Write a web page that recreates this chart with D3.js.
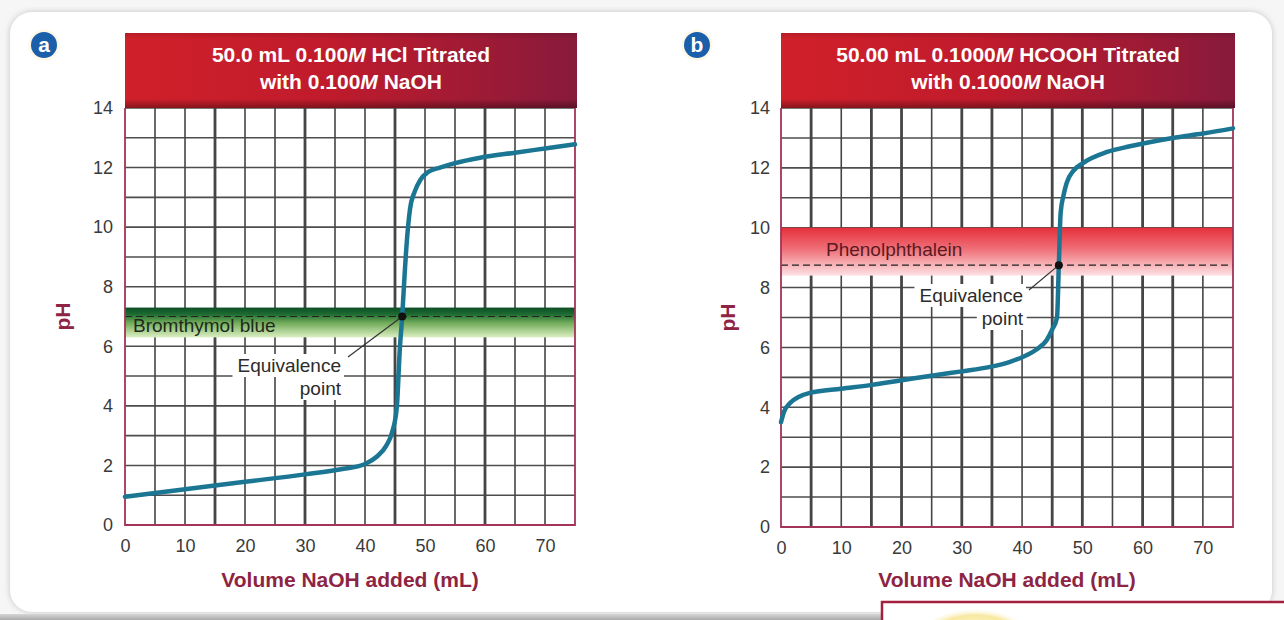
<!DOCTYPE html>
<html>
<head>
<meta charset="utf-8">
<script src="https://cdn.jsdelivr.net/npm/d3@7"></script>
<style>
  html, body { margin: 0; padding: 0; background: #f4f4f4; }
  svg { display: block; }
</style>
</head>
<body>
<svg id="chart" width="1284" height="620"></svg>
<script>
// ---- Panel a: strong acid (HCl) titrated with NaOH ----
const volumeA = [0, 10, 20, 30, 36, 40, 42, 43.5, 44.5, 45.3, 45.8, 46.2, 46.6, 47.0, 47.5, 48.3, 49.2, 50.5, 52.5, 55, 59.2, 65, 70, 75];
const pHA     = [0.95, 1.2, 1.45, 1.7, 1.87, 2.05, 2.3, 2.65, 3.1, 3.95, 5.9, 7.0, 8.4, 9.6, 10.6, 11.2, 11.58, 11.85, 12.0, 12.15, 12.33, 12.5, 12.64, 12.78];
const titleA  = ["50.0 mL 0.100", "M", " HCl Titrated", "with 0.100", "M", " NaOH"];
const indicatorA = ["Bromthymol blue", 6.3, 7.3];
const equivalenceA = [46.2, 7.0];

// ---- Panel b: weak acid (HCOOH) titrated with NaOH ----
const volumeB = [0, 0.5, 1.5, 3, 4.8, 10, 14.8, 20.3, 25.8, 30, 34.7, 38, 40.1, 42.5, 44.1, 45.0, 45.8, 46.1, 46.4, 46.9, 47.4, 48.5, 50.1, 54.1, 57.9, 65, 70, 75];
const pHB     = [3.5, 3.85, 4.14, 4.35, 4.48, 4.62, 4.74, 4.91, 5.08, 5.2, 5.35, 5.52, 5.68, 5.95, 6.25, 6.6, 7.0, 8.75, 10.5, 11.1, 11.5, 11.9, 12.16, 12.53, 12.72, 13.0, 13.15, 13.32];
const titleB  = ["50.00 mL 0.1000", "M", " HCOOH Titrated", "with 0.1000", "M", " NaOH"];
const indicatorB = ["Phenolphthalein", 8.4, 10.0];
const equivalenceB = [46.1, 8.75];

// ---- Shared axis values ----
const xTickValues = [0, 10, 20, 30, 40, 50, 60, 70];
const yTickValues = [0, 2, 4, 6, 8, 10, 12, 14];
const xGridValues = d3.range(0, 76, 5);
const yGridValues = d3.range(0, 15, 1);
const xAxisTitle = "Volume NaOH added (mL)";
const yAxisTitle = "pH";
const equivalenceText = ["Equivalence", "point"];

const FONT = "'Liberation Sans', Arial, sans-serif";
const MAROON = "#8e2443";

const svg = d3.select("#chart");
const defs = svg.append("defs");

// Card background
const shadow = defs.append("filter").attr("id", "cardShadow")
  .attr("x", "-5%").attr("y", "-5%").attr("width", "110%").attr("height", "110%");
shadow.append("feDropShadow").attr("dx", 0).attr("dy", 0).attr("stdDeviation", 3)
  .attr("flood-color", "#9a9a9a").attr("flood-opacity", 0.55);

svg.append("rect").attr("x", 0).attr("y", 0).attr("width", 1284).attr("height", 620).attr("fill", "#f6f6f6");
svg.append("rect").attr("x", 10).attr("y", 12).attr("width", 1262).attr("height", 600)
  .attr("rx", 22).attr("fill", "#ffffff").attr("filter", "url(#cardShadow)");

// Bottom strip and the neighbouring box
const strip = defs.append("linearGradient").attr("id", "stripGrad").attr("x1", 0).attr("y1", 0).attr("x2", 0).attr("y2", 1);
strip.append("stop").attr("offset", "0%").attr("stop-color", "#d6d6d6");
strip.append("stop").attr("offset", "100%").attr("stop-color", "#a9a9a9");
svg.append("rect").attr("x", 0).attr("y", 614).attr("width", 882).attr("height", 6).attr("fill", "url(#stripGrad)");
const sun = defs.append("radialGradient").attr("id", "sunGrad");
sun.append("stop").attr("offset", "0%").attr("stop-color", "#fff6c8");
sun.append("stop").attr("offset", "70%").attr("stop-color", "#f6e38a");
sun.append("stop").attr("offset", "100%").attr("stop-color", "#ffffff").attr("stop-opacity", 0);
svg.append("rect").attr("x", 882).attr("y", 602).attr("width", 420).attr("height", 40)
  .attr("fill", "#ffffff").attr("stroke", "#a3213f").attr("stroke-width", 2.5);
svg.append("ellipse").attr("cx", 975).attr("cy", 632).attr("rx", 55).attr("ry", 24).attr("fill", "url(#sunGrad)").attr("opacity", 0.8);

// Gradients for banners and indicator bands
const banner = defs.append("linearGradient").attr("id", "bannerGrad").attr("x1", 0).attr("y1", 0).attr("x2", 1).attr("y2", 0);
banner.append("stop").attr("offset", "0%").attr("stop-color", "#d0202a");
banner.append("stop").attr("offset", "45%").attr("stop-color", "#c01b2c");
banner.append("stop").attr("offset", "100%").attr("stop-color", "#881a3b");

const bshade = defs.append("linearGradient").attr("id", "bannerShade").attr("x1", 0).attr("y1", 0).attr("x2", 0).attr("y2", 1);
bshade.append("stop").attr("offset", "0%").attr("stop-color", "#000").attr("stop-opacity", 0.12);
bshade.append("stop").attr("offset", "8%").attr("stop-color", "#000").attr("stop-opacity", 0);
bshade.append("stop").attr("offset", "88%").attr("stop-color", "#000").attr("stop-opacity", 0);
bshade.append("stop").attr("offset", "100%").attr("stop-color", "#000").attr("stop-opacity", 0.35);

const green = defs.append("linearGradient").attr("id", "greenBand").attr("x1", 0).attr("y1", 0).attr("x2", 0).attr("y2", 1);
green.append("stop").attr("offset", "0%").attr("stop-color", "#0c4f24");
green.append("stop").attr("offset", "22%").attr("stop-color", "#1d6a32");
green.append("stop").attr("offset", "50%").attr("stop-color", "#6ea957");
green.append("stop").attr("offset", "100%").attr("stop-color", "#dcefc2");

const pink = defs.append("linearGradient").attr("id", "pinkBand").attr("x1", 0).attr("y1", 0).attr("x2", 0).attr("y2", 1);
pink.append("stop").attr("offset", "0%").attr("stop-color", "#e5303b");
pink.append("stop").attr("offset", "45%").attr("stop-color", "#f07078");
pink.append("stop").attr("offset", "100%").attr("stop-color", "#fde1e3");

function drawPanel(opts) {
  const { letter, badgeX, left, right, top, bottom, volumes, pHs, title, indicator, bandFill, bandText, equiv, labelEnd, labelTop, leaderEnd, yLabelX, pHx } = opts;

  const x = d3.scaleLinear().domain([0, 75]).range([left, right]);
  const y = d3.scaleLinear().domain([0, 14]).range([bottom, top]);
  const g = svg.append("g");

  // Letter badge
  svg.append("circle").attr("cx", badgeX).attr("cy", 45).attr("r", 15.5).attr("fill", "#fdf7e8");
  svg.append("circle").attr("cx", badgeX).attr("cy", 45).attr("r", 13).attr("fill", "#1b5ea9");
  svg.append("text").attr("x", badgeX).attr("y", 52).attr("text-anchor", "middle")
    .attr("font-family", FONT).attr("font-weight", "bold")
    .attr("font-size", 21).attr("fill", "#fff").text(letter);

  // Plot background
  g.append("rect").attr("x", left).attr("y", top).attr("width", right - left).attr("height", bottom - top).attr("fill", "#fff");

  // Grid
  g.append("g").selectAll("line").data(yGridValues).join("line")
    .attr("x1", left).attr("x2", right).attr("y1", d => y(d)).attr("y2", d => y(d))
    .attr("stroke", "#4d4d4d").attr("stroke-width", 1.6);
  g.append("g").selectAll("line").data(xGridValues.filter(v => v > 0 && v < 75)).join("line")
    .attr("y1", top).attr("y2", bottom).attr("x1", d => x(d)).attr("x2", d => x(d))
    .attr("stroke", "#454545").attr("stroke-width", d => opts.thick(d) ? 2.8 : 1.6);

  // Indicator band
  g.append("rect").attr("x", left).attr("width", right - left)
    .attr("y", y(indicator[2])).attr("height", y(indicator[1]) - y(indicator[2])).attr("fill", bandFill);
  g.append("line").attr("x1", left).attr("x2", right).attr("y1", y(equiv[1])).attr("y2", y(equiv[1]))
    .attr("stroke", "#222").attr("stroke-width", 1.2).attr("stroke-dasharray", "7,4");
  g.append("text").attr("x", left + bandText[0]).attr("y", y(indicator[1]) + bandText[1])
    .attr("font-family", FONT).attr("font-size", 19).attr("fill", bandText[2]).text(indicator[0]);

  // Plot frame
  g.append("path")
    .attr("d", `M${left},${top}V${bottom}H${right}V${top}`)
    .attr("fill", "none").attr("stroke", "#a23458").attr("stroke-width", 1.8);

  // Equivalence label with a white knock-out behind each line
  const labelG = g.append("g");
  equivalenceText.forEach((t, i) => {
    const tx = labelG.append("text").attr("x", labelEnd).attr("y", labelTop + i * 23)
      .attr("text-anchor", "end").attr("font-family", FONT).attr("font-size", 19)
      .attr("fill", "#2b2b2b").text(t);
    const bb = tx.node().getBBox();
    labelG.insert("rect", "text").attr("x", bb.x - 5).attr("y", bb.y - 1)
      .attr("width", bb.width + 8).attr("height", bb.height + 2).attr("fill", "#fff");
  });

  // Titration curve
  const line = d3.line().x((d, i) => x(volumes[i])).y((d, i) => y(pHs[i])).curve(d3.curveMonotoneX);
  g.append("path").datum(pHs).attr("d", line).attr("fill", "none")
    .attr("stroke", "#1b7694").attr("stroke-width", 4.5).attr("stroke-linecap", "round").attr("stroke-linejoin", "round");

  // Leader line and equivalence point
  g.append("line").attr("x1", x(equiv[0])).attr("y1", y(equiv[1]))
    .attr("x2", leaderEnd[0]).attr("y2", leaderEnd[1]).attr("stroke", "#333").attr("stroke-width", 1.2);
  g.append("circle").attr("cx", x(equiv[0])).attr("cy", y(equiv[1])).attr("r", 4).attr("fill", "#111");

  // Title banner
  const bw = right - left + 2;
  g.append("rect").attr("x", left).attr("y", 33).attr("width", bw).attr("height", top - 33).attr("fill", "url(#bannerGrad)");
  g.append("rect").attr("x", left).attr("y", 33).attr("width", bw).attr("height", top - 33).attr("fill", "url(#bannerShade)");
  const cx = left + bw / 2;
  [0, 1].forEach(li => {
    const t = g.append("text").attr("x", cx).attr("y", 62 + li * 27).attr("text-anchor", "middle")
      .attr("font-family", FONT).attr("font-weight", "bold").attr("font-size", 21).attr("fill", "#fff");
    t.append("tspan").text(title[li * 3]);
    t.append("tspan").attr("font-style", "italic").text(title[li * 3 + 1]);
    t.append("tspan").text(title[li * 3 + 2]);
  });

  // Axes
  const xAxis = g.append("g").attr("transform", `translate(0,${bottom})`)
    .call(d3.axisBottom(x).tickValues(xTickValues).tickSize(0).tickPadding(14).tickFormat(d3.format("d")));
  xAxis.select(".domain").remove();
  xAxis.selectAll("text").attr("font-family", FONT).attr("font-size", 18).attr("fill", "#3a3a3a");

  const yAxis = g.append("g").attr("transform", `translate(${yLabelX},0)`)
    .call(d3.axisLeft(y).tickValues(yTickValues).tickSize(0).tickPadding(0).tickFormat(d3.format("d")));
  yAxis.select(".domain").remove();
  yAxis.selectAll("text").attr("font-family", FONT).attr("font-size", 18).attr("fill", "#3a3a3a");

  g.append("text").attr("x", (left + right) / 2).attr("y", 587).attr("text-anchor", "middle")
    .attr("font-family", FONT).attr("font-weight", "bold").attr("font-size", 21).attr("fill", MAROON).text(xAxisTitle);
  g.append("text").attr("transform", `translate(${pHx},${(top + bottom) / 2}) rotate(-90)`).attr("text-anchor", "middle")
    .attr("font-family", FONT).attr("font-weight", "bold").attr("font-size", 21).attr("fill", MAROON).text(yAxisTitle);
}

drawPanel({
  letter: "a", badgeX: 44, left: 125, right: 575, top: 108, bottom: 525,
  volumes: volumeA, pHs: pHA, title: titleA, indicator: indicatorA,
  bandFill: "url(#greenBand)", bandText: [8, -5, "#1d2a1a"],
  equiv: equivalenceA, labelEnd: 341, labelTop: 372, leaderEnd: [348, 357],
  yLabelX: 113, pHx: 70,
  thick: v => v % 15 === 0
});

drawPanel({
  letter: "b", badgeX: 697, left: 781, right: 1233, top: 108, bottom: 527,
  volumes: volumeB, pHs: pHB, title: titleB, indicator: indicatorB,
  bandFill: "url(#pinkBand)", bandText: [45, -20, "#5b1a22"],
  equiv: equivalenceB, labelEnd: 1023, labelTop: 302, leaderEnd: [1029, 290],
  yLabelX: 770, pHx: 735,
  thick: v => (v - 10) % 15 !== 0
});
</script>
</body>
</html>
